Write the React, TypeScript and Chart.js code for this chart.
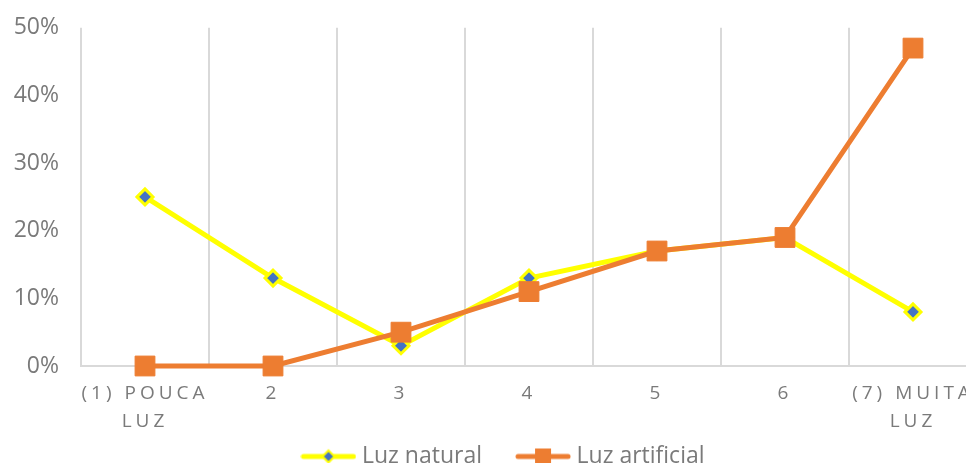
import React, { useEffect, useRef } from 'react';
import { Chart, registerables } from 'chart.js';

Chart.register(...registerables);

const categories: (string | string[])[] = [['(1) POUCA', 'LUZ'], '2', '3', '4', '5', '6', ['(7) MUITA', 'LUZ']];
const luzNatural = [25, 13, 3, 13, 17, 19, 8];
const luzArtificial = [0, 0, 5, 11, 17, 19, 47];
const seriesNames = ['Luz natural', 'Luz artificial'];
const yMin = 0;
const yMax = 50;
const yStep = 10;

const YELLOW = '#FFFF00';
const BLUE = '#4472C4';
const ORANGE = '#ED7D31';
const TEXT = '#7a7a7a';
const GRID = '#d9d9d9';
const FONT = '"Open Sans", sans-serif';

function makeLegendIcon(kind: 'natural' | 'artificial'): HTMLCanvasElement {
  const c = document.createElement('canvas');
  c.width = 56;
  c.height = 22;
  const ctx = c.getContext('2d')!;
  ctx.lineCap = 'round';
  if (kind === 'natural') {
    ctx.strokeStyle = YELLOW;
    ctx.lineWidth = 5;
    ctx.beginPath();
    ctx.moveTo(3, 11);
    ctx.lineTo(53, 11);
    ctx.stroke();
    ctx.fillStyle = BLUE;
    ctx.strokeStyle = YELLOW;
    ctx.lineWidth = 2;
    ctx.beginPath();
    ctx.moveTo(28, 5);
    ctx.lineTo(34, 11);
    ctx.lineTo(28, 17);
    ctx.lineTo(22, 11);
    ctx.closePath();
    ctx.fill();
    ctx.stroke();
  } else {
    ctx.strokeStyle = ORANGE;
    ctx.lineWidth = 5;
    ctx.beginPath();
    ctx.moveTo(3, 11);
    ctx.lineTo(53, 11);
    ctx.stroke();
    ctx.fillStyle = ORANGE;
    ctx.fillRect(20, 3, 16, 16);
  }
  return c;
}

const letterSpacingPlugin = {
  id: 'xLetterSpacing',
  beforeDraw(chart: any) {
    const xs: any = chart.scales.x;
    if (xs && !xs.__patched) {
      const orig = xs.drawLabels.bind(xs);
      xs._computeLabelArea = () => undefined;
      xs.drawLabels = (area: any) => {
        const ctx: any = chart.ctx;
        ctx.save();
        ctx.letterSpacing = '4px';
        orig(area);
        ctx.restore();
      };
      xs.__patched = true;
    }
  },
};

export default function App() {
  const ref = useRef<HTMLCanvasElement>(null);

  useEffect(() => {
    if (!ref.current) return;
    const icons = [makeLegendIcon('natural'), makeLegendIcon('artificial')];
    const chart = new Chart(ref.current, {
      type: 'line',
      data: {
        labels: categories as any,
        datasets: [
          {
            label: seriesNames[0],
            data: luzNatural,
            borderColor: YELLOW,
            backgroundColor: BLUE,
            borderWidth: 5,
            pointStyle: 'rectRot',
            pointRadius: 8,
            pointBorderWidth: 3,
            pointBorderColor: YELLOW,
            pointBackgroundColor: BLUE,
            tension: 0,
            order: 2,
            clip: false,
          },
          {
            label: seriesNames[1],
            data: luzArtificial,
            borderColor: ORANGE,
            backgroundColor: ORANGE,
            borderWidth: 5,
            pointStyle: 'rect',
            pointRadius: 14,
            pointBorderWidth: 1,
            pointBorderColor: ORANGE,
            pointBackgroundColor: ORANGE,
            tension: 0,
            order: 1,
            clip: false,
          },
        ],
      },
      options: {
        animation: false,
        responsive: false,
        layout: { padding: { top: 21, left: 0, right: 0, bottom: 0 } },
        scales: {
          x: {
            type: 'category',
            offset: true,
            grid: { display: true, offset: true, color: GRID, lineWidth: 2, drawTicks: false },
            border: { display: true, color: GRID, width: 2 },
            ticks: {
              color: TEXT,
              font: { family: FONT, size: 19, lineHeight: 1.45 },
              padding: 14,
              maxRotation: 0,
              autoSkip: false,
            },
            afterFit: (s: any) => {
              s.height = 40;
            },
          },
          y: {
            min: yMin,
            max: yMax,
            grid: { display: false },
            border: { display: false },
            ticks: {
              stepSize: yStep,
              color: TEXT,
              font: { family: FONT, size: 23 },
              padding: 14,
              callback: (v: any) => v + '%',
            },
            afterFit: (s: any) => {
              s.width = 81;
            },
          },
          y2: {
            position: 'right',
            display: true,
            grid: { display: false },
            border: { display: false },
            ticks: { display: false },
            afterFit: (s: any) => {
              s.width = 34;
            },
          },
        },
        plugins: {
          tooltip: { enabled: false },
          legend: {
            position: 'bottom',
            labels: {
              color: TEXT,
              font: { family: FONT, size: 23 },
              usePointStyle: true,
              pointStyleWidth: 44,
              padding: 39,
              generateLabels: (ch: any) =>
                ch.data.datasets.map((d: any, i: number) => ({
                  text: d.label,
                  pointStyle: icons[i],
                  fillStyle: 'transparent',
                  strokeStyle: 'transparent',
                  lineWidth: 0,
                  fontColor: TEXT,
                  datasetIndex: i,
                  hidden: false,
                })),
            },
          },
        },
      },
      plugins: [letterSpacingPlugin],
    });
    return () => chart.destroy();
  }, []);

  return (
    <div
      style={{
        position: 'fixed',
        left: 0,
        top: 0,
        width: 966,
        height: 463,
        overflow: 'hidden',
        background: '#fff',
      }}
    >
      <canvas ref={ref} width={1011} height={478} style={{ display: 'block' }} />
    </div>
  );
}
